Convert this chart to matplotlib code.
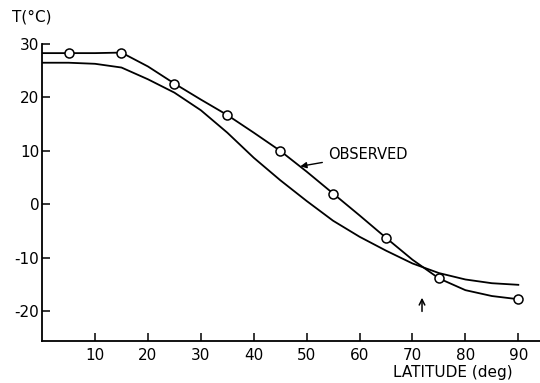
import matplotlib.pyplot as plt

plt.rcParams['axes.unicode_minus'] = False

# observed data points (circles)
lat_obs = [5, 15, 25, 35, 45, 55, 65, 75, 90]
t_obs = [28.3, 28.4, 22.6, 16.7, 10.0, 2.0, -6.3, -13.9, -17.8]

# curves at 5 deg steps
lat_curve = [0, 5, 10, 15, 20, 25, 30, 35, 40, 45, 50, 55, 60, 65, 70, 75, 80, 85, 90]
t_obs_curve = [28.3, 28.3, 28.3, 28.4, 25.8, 22.6, 19.6, 16.7, 13.4, 10.0, 6.1, 2.0, -2.1,
               -6.3, -10.4, -13.9, -16.1, -17.2, -17.8]
t_model = [26.5, 26.5, 26.3, 25.6, 23.4, 20.9, 17.6, 13.4, 8.7, 4.5, 0.6, -3.1, -6.1,
           -8.7, -11.1, -12.9, -14.1, -14.8, -15.1]

xticks = [10, 20, 30, 40, 50, 60, 70, 80, 90]
yticks = [-20, -10, 0, 10, 20, 30]

fig = plt.figure(figsize=(5.4, 3.83), dpi=100)
ax = fig.add_axes([0.078, 0.11, 0.922, 0.775])

ax.plot(lat_curve, t_obs_curve, color='black', lw=1.3)
ax.plot(lat_curve, t_model, color='black', lw=1.3)
ax.plot(lat_obs, t_obs, 'o', mfc='white', mec='black', mew=1.1, ms=6.5)

ax.set_xlim(0, 94.1)
ax.set_ylim(-25.6, 30)
ax.spines['top'].set_visible(False)
ax.spines['right'].set_visible(False)
ax.spines['left'].set_linewidth(1.3)
ax.spines['bottom'].set_linewidth(1.3)

ax.set_xticks(xticks)
ax.set_yticks(yticks)
ax.tick_params(axis='x', direction='in', length=5.5, width=1.1, pad=5, labelsize=11)
ax.tick_params(axis='y', direction='in', length=6, width=1.1, pad=2, labelsize=11)

ax.annotate('OBSERVED', xy=(48.8, 7.1), xytext=(54, 9.3), fontsize=10.5,
            va='center', ha='left',
            arrowprops=dict(arrowstyle='-|>', color='black', lw=1, shrinkA=2, shrinkB=0,
                            mutation_scale=9))
ax.annotate('', xy=(71.8, -17.0), xytext=(71.8, -20.6),
            arrowprops=dict(arrowstyle='->', color='black', lw=1.1, mutation_scale=10))

fig.text(0.022, 0.955, 'T(°C)', fontsize=11, ha='left', va='center')
fig.text(0.728, 0.027, 'LATITUDE (deg)', fontsize=11, ha='left', va='center')

fig.savefig('out.png', dpi=100)
